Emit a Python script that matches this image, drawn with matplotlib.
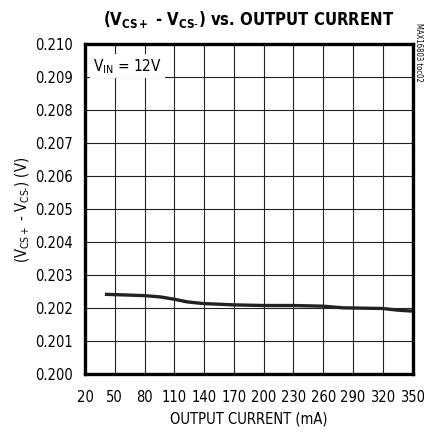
import matplotlib
matplotlib.use('Agg')
import matplotlib.pyplot as plt

# curve
current_ma = [40, 60, 80, 96, 110, 123, 139, 170, 200, 230, 260, 280, 300, 320, 335, 350]
vsense_v = [0.20240, 0.20238, 0.20236, 0.20232, 0.20225, 0.20217, 0.20212, 0.20208, 0.20206,
            0.20206, 0.20204, 0.20199, 0.20198, 0.20197, 0.20192, 0.20189]

x_ticks = [20, 50, 80, 110, 140, 170, 200, 230, 260, 290, 320, 350]
y_ticks = [0.200, 0.201, 0.202, 0.203, 0.204, 0.205, 0.206, 0.207, 0.208, 0.209, 0.210]

plt.rcParams['font.family'] = ['DejaVu Sans']
plt.rcParams['font.stretch'] = 'condensed'
plt.rcParams['mathtext.fontset'] = 'custom'
plt.rcParams['mathtext.rm'] = 'DejaVu Sans:stretch=condensed'
plt.rcParams['mathtext.bf'] = 'DejaVu Sans:weight=bold:stretch=condensed'

fig = plt.figure(figsize=(4.24, 4.35), dpi=100)
ax = fig.add_axes([85 / 424, 1 - 374.5 / 435, 327.5 / 424, 330 / 435])

ax.plot(current_ma, vsense_v, color='#222222', lw=2.4, solid_capstyle='butt', zorder=3)

ax.set_xlim(20, 350)
ax.set_ylim(0.200, 0.210)
ax.set_xticks(x_ticks)
ax.set_yticks(y_ticks)
ax.set_yticklabels([f'{v:.3f}' for v in y_ticks])
ax.grid(True, color='#222222', lw=0.8)
ax.tick_params(length=0, labelsize=10.5)
ax.tick_params(axis='x', pad=11)
ax.tick_params(axis='y', pad=9)
for s in ax.spines.values():
    s.set_linewidth(2.4)
    s.set_zorder(5)

ax.set_xlabel('OUTPUT CURRENT (mA)', fontsize=10.5, labelpad=5)
ax.set_ylabel('(V$_{\\mathrm{CS+}}$ - V$_{\\mathrm{CS}\\text{-}}$) (V)', fontsize=10.5, labelpad=2)
ax.set_title('(V$_{\\mathbf{CS+}}$ - V$_{\\mathbf{CS}\\text{-}}$) vs. OUTPUT CURRENT',
             fontsize=12, fontweight='bold', pad=14)

ax.text(28, 0.20932, 'V$_{\\mathrm{IN}}$ = 12V', fontsize=11, va='center', ha='left',
        bbox=dict(facecolor='white', edgecolor='none', boxstyle='square,pad=0.2'), zorder=4)
fig.text(418 / 424, 1 - 52 / 435, 'MAX16803 toc02', rotation=270, fontsize=5.5,
         ha='center', va='center')

plt.savefig('out.png', dpi=100)
